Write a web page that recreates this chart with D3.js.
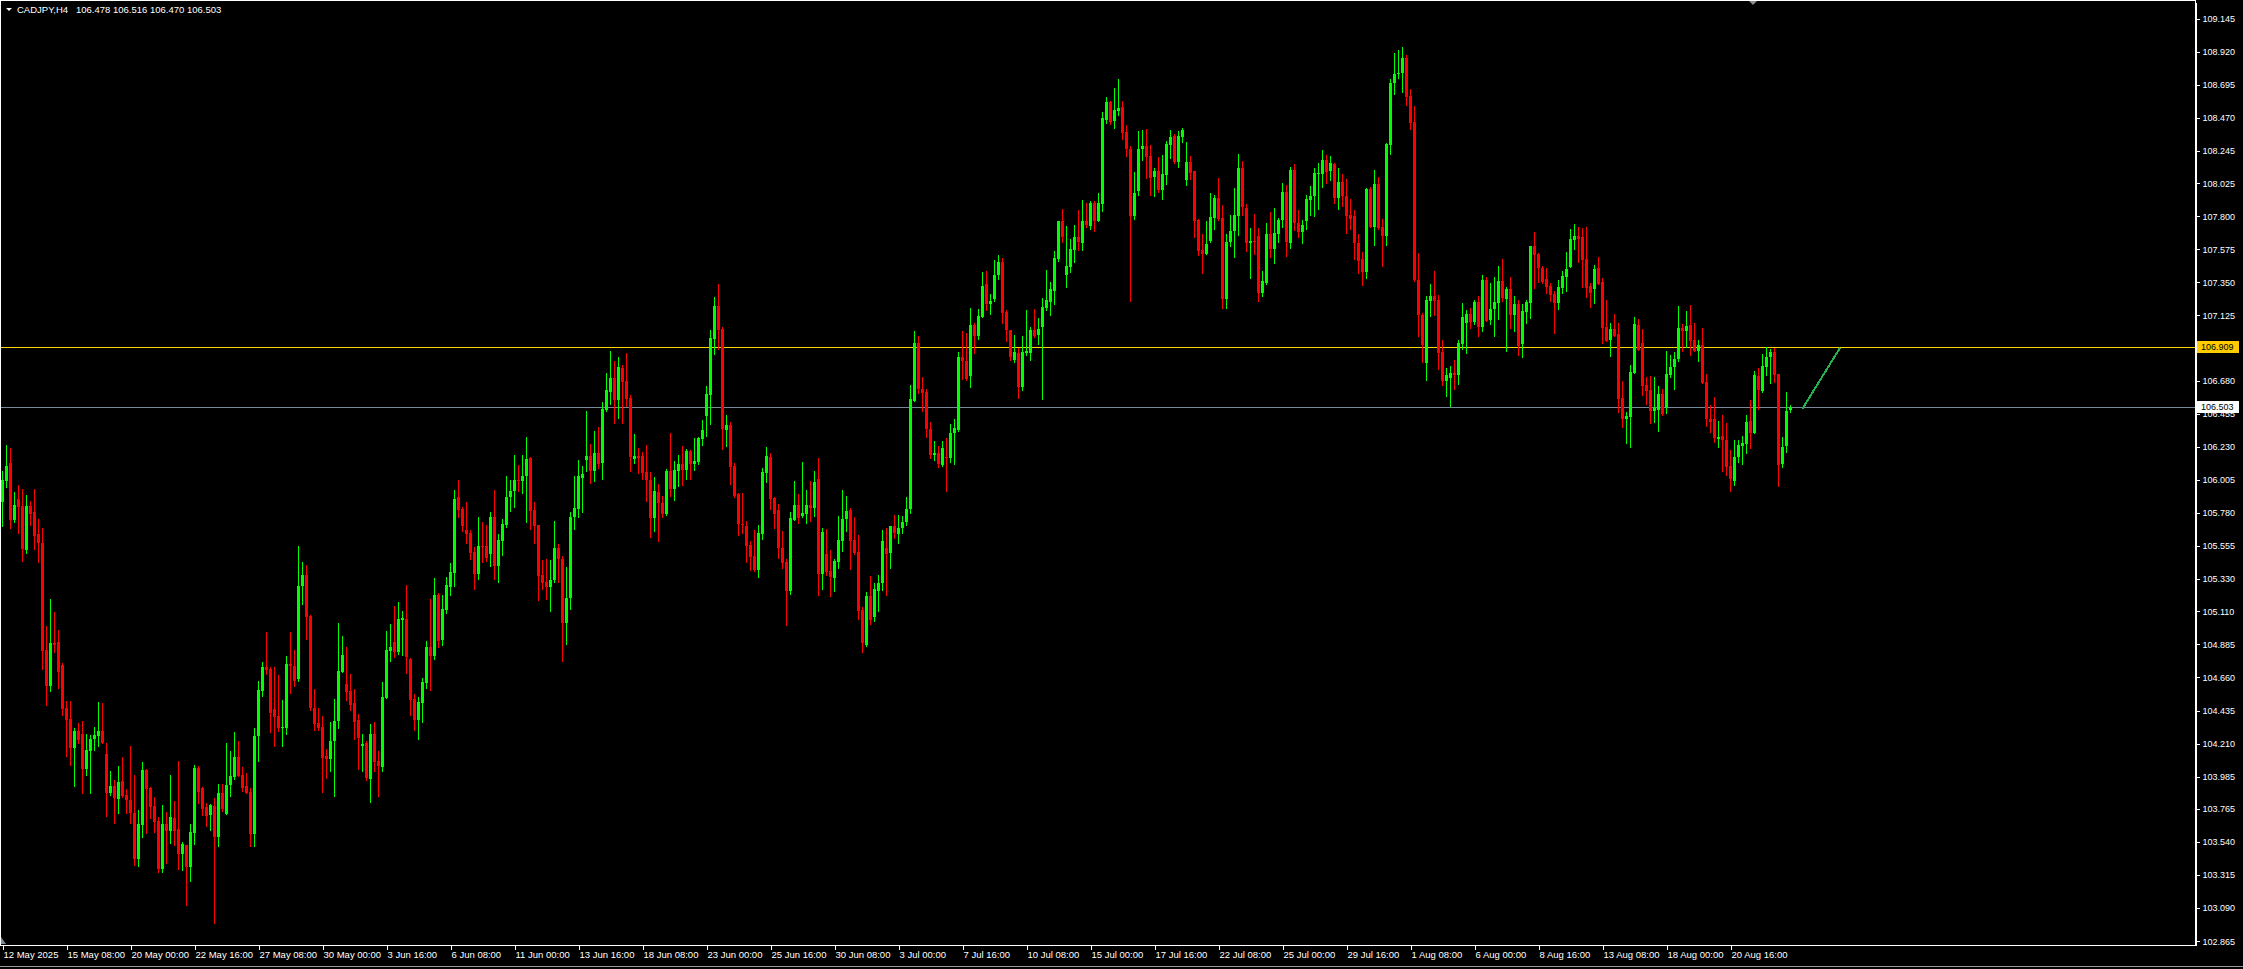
<!DOCTYPE html>
<html><head><meta charset="utf-8">
<script src="https://cdn.jsdelivr.net/npm/d3@7"></script>
<style>html,body{margin:0;padding:0;background:#000;overflow:hidden}svg{display:block}</style>
</head><body>
<svg id="c" width="2243" height="969"></svg>
<script>
const symbol = "CADJPY,H4";
const lastQuote = [106.478, 106.516, 106.470, 106.503];

const open = [
105.857,105.998,106.120,105.732,105.875,105.828,105.528,105.828,105.789,105.637,
105.574,104.847,104.605,104.893,104.902,104.745,104.453,104.375,104.183,104.296,
104.276,104.037,104.162,104.242,104.262,104.296,104.140,103.876,103.922,103.833,
103.956,103.860,103.826,103.736,103.425,103.656,104.031,103.910,103.788,103.686,
103.357,103.663,103.615,103.706,103.629,103.459,103.520,103.373,103.604,104.046,
103.910,103.781,103.724,103.788,103.577,103.872,103.731,103.929,103.985,104.117,
103.997,103.922,103.883,103.595,104.262,104.571,104.729,104.718,104.444,104.398,
104.319,104.319,104.752,104.739,104.650,
105.283,105.358,105.075,104.455,104.353,104.326,104.122,104.106,104.224,104.364,
104.700,104.616,104.571,104.489,104.367,104.190,104.212,103.970,104.276,104.088,
104.047,104.523,104.841,104.898,104.836,105.052,105.059,104.787,104.514,104.371,
104.489,104.621,104.870,104.809,105.218,104.916,105.120,105.279,105.374,105.885,
105.808,105.665,105.646,105.517,105.365,105.556,105.558,105.501,105.749,105.422,
105.592,105.699,105.885,105.930,106.005,105.994,106.028,106.157,105.801,105.699,
105.358,105.313,105.279,105.320,105.544,105.467,105.034,105.199,105.749,105.808,
106.021,106.141,106.168,106.068,106.186,
106.123,106.481,106.606,106.697,106.549,106.769,106.678,106.565,106.148,106.168,
106.168,106.061,106.004,105.748,105.921,105.846,105.771,106.066,105.943,106.068,
106.113,106.073,106.202,106.113,106.125,106.284,106.440,106.583,106.964,107.189,
107.032,106.345,106.379,106.100,105.909,105.705,105.691,105.562,105.487,105.392,
105.637,106.054,106.159,105.880,105.800,105.544,105.444,105.249,105.732,105.834,
105.759,105.773,105.834,105.816,106.009,105.362,105.501,105.385,105.340,105.449,
105.592,105.737,105.800,105.596,105.512,105.120,104.881,105.215,105.074,105.251,
105.301,105.539,105.510,105.691,105.637,
105.680,105.720,105.810,106.545,106.940,106.622,106.600,106.350,106.171,106.191,
106.107,106.164,106.153,106.323,106.346,106.838,106.815,106.715,107.056,106.985,
107.117,107.339,107.203,107.237,107.401,107.491,107.151,107.026,106.822,106.872,
106.640,106.867,106.872,107.022,106.988,107.049,107.178,107.219,107.294,107.509,
107.768,107.401,107.457,107.571,107.661,107.616,107.768,107.736,107.888,107.768,
107.884,108.456,108.580,108.449,108.517,108.546,108.376,108.258,107.804,107.972,
108.256,108.279,108.211,108.070,108.108,107.979,108.081,108.285,108.347,108.172,
108.338,108.043,108.167,108.108,107.775,
107.570,107.543,107.632,107.791,107.927,107.791,107.235,107.621,107.700,107.804,
108.131,107.859,107.620,107.632,107.666,107.280,107.348,107.679,107.577,107.679,
107.775,107.963,107.620,108.115,107.752,107.691,107.770,107.911,107.934,108.088,
108.088,108.183,108.108,108.154,107.927,108.031,107.938,107.809,107.802,107.616,
107.509,107.423,107.986,107.723,108.020,107.729,107.668,108.285,108.705,108.766,
108.773,108.875,108.619,108.439,107.366,107.128,106.799,107.226,107.257,107.230,
106.878,106.681,106.701,106.735,106.720,106.931,107.076,107.135,107.083,107.214,
107.049,107.366,107.094,107.167,107.208,
107.360,107.237,107.305,107.124,107.201,106.931,107.151,107.212,107.598,107.543,
107.450,107.373,107.326,107.271,107.212,107.314,107.389,107.457,107.639,107.666,
107.655,107.507,107.326,107.303,107.446,107.355,107.049,106.958,107.033,106.999,
106.565,106.420,106.436,106.731,107.060,106.935,106.652,106.618,106.477,106.482,
106.590,106.497,106.720,106.770,106.826,107.042,107.015,107.060,106.958,106.885,
106.924,106.668,106.420,106.420,106.284,106.305,106.277,106.102,105.994,106.164,
106.236,106.250,106.409,106.327,106.713,106.611,106.770,106.838,106.874,106.727,
106.114,106.236,106.478
];

const high = [
106.066,106.243,106.220,105.923,105.971,105.941,105.903,105.862,105.941,105.737,
105.680,105.011,105.195,105.106,104.984,104.757,104.500,104.500,104.314,104.348,
104.364,104.276,104.269,104.321,104.493,104.484,104.212,104.024,103.963,104.058,
104.117,103.901,104.194,103.997,103.758,104.085,104.037,103.917,103.849,103.708,
103.792,103.747,103.997,103.820,104.092,103.543,103.520,103.663,104.065,104.058,
103.917,103.808,103.799,103.842,103.935,103.935,104.217,104.162,104.287,104.228,
104.049,104.008,103.906,104.314,104.636,104.764,104.972,104.729,104.729,104.677,
104.507,104.807,104.972,104.847,105.555,
105.445,105.426,105.086,104.582,104.455,104.398,104.174,104.355,104.514,105.034,
104.943,104.870,104.684,104.582,104.412,104.276,104.224,104.344,104.355,104.156,
104.632,104.977,105.025,105.143,105.177,105.113,105.290,104.791,104.548,104.530,
104.659,104.909,105.195,105.340,105.238,105.222,105.347,105.442,105.937,106.005,
105.823,105.851,105.665,105.547,105.755,105.717,105.699,105.783,105.937,105.637,
105.739,106.028,106.005,106.175,106.103,106.175,106.300,106.164,105.851,105.699,
105.460,105.467,105.460,105.726,105.569,105.488,105.415,105.783,106.028,106.141,
106.100,106.475,106.250,106.339,106.368,
106.538,106.735,106.883,106.815,106.839,106.787,106.867,106.583,106.318,106.225,
106.193,106.243,106.061,106.023,105.977,105.896,106.079,106.322,106.134,106.175,
106.236,106.216,106.209,106.293,106.300,106.413,106.644,107.026,107.248,107.339,
107.044,106.447,106.397,106.118,105.914,105.914,105.725,105.589,105.664,105.698,
106.084,106.227,106.186,105.887,105.841,105.657,105.464,105.784,105.998,105.907,
106.125,105.936,105.998,106.066,106.152,105.680,105.671,105.528,105.467,105.759,
105.936,105.896,105.816,105.750,105.630,105.138,105.240,105.351,105.306,105.358,
105.664,105.680,105.691,105.766,105.766,
105.760,105.891,106.651,107.019,106.981,106.702,106.625,106.402,106.271,106.236,
106.271,106.293,106.386,106.420,106.874,107.019,107.003,107.178,107.076,107.169,
107.423,107.428,107.271,107.503,107.537,107.518,107.162,107.026,106.992,106.901,
106.981,107.162,107.044,107.169,107.110,107.246,107.435,107.351,107.564,107.768,
107.850,107.734,107.646,107.741,107.843,107.911,107.893,107.904,107.904,107.956,
108.512,108.608,108.585,108.671,108.735,108.585,108.422,108.279,108.104,108.383,
108.387,108.394,108.285,108.127,108.201,108.217,108.315,108.387,108.360,108.381,
108.399,108.304,108.211,108.108,107.779,
107.679,107.768,107.956,107.945,108.058,107.877,107.679,107.809,107.995,108.222,
108.176,107.884,107.718,107.813,107.718,107.427,107.756,107.831,107.859,107.786,
108.024,108.013,108.138,108.154,107.843,107.775,107.945,108.006,108.126,108.165,
108.251,108.217,108.210,108.160,108.126,108.088,108.054,107.918,107.843,107.677,
107.555,107.995,107.997,108.115,108.070,107.781,108.297,108.734,108.909,108.932,
108.950,108.898,108.666,108.551,107.548,107.139,107.257,107.339,107.427,107.264,
106.958,106.765,106.781,106.822,106.958,107.207,107.162,107.173,107.230,107.257,
107.400,107.384,107.344,107.384,107.462,
107.507,107.317,107.385,107.258,107.230,107.203,107.230,107.598,107.689,107.552,
107.462,107.450,107.344,107.294,107.366,107.428,107.559,107.714,107.748,107.723,
107.718,107.723,107.348,107.469,107.521,107.378,107.230,107.076,107.135,107.076,
106.679,106.470,106.788,107.117,107.101,107.033,106.702,106.713,106.702,106.647,
106.622,106.883,106.856,106.874,107.189,107.067,107.155,107.196,107.076,106.958,
107.042,106.727,106.516,106.566,106.409,106.447,106.391,106.209,106.277,106.277,
106.305,106.447,106.550,106.749,106.765,106.863,106.908,106.894,106.906,106.727,
106.295,106.602,106.516
];

const low = [
105.692,105.959,105.680,105.721,105.646,105.456,105.510,105.698,105.533,105.449,
104.716,104.473,104.568,104.836,104.591,104.405,104.128,104.065,103.922,104.212,
103.876,103.997,103.872,104.167,104.194,104.212,103.720,103.860,103.672,103.736,
103.849,103.740,103.668,103.384,103.379,103.572,103.604,103.702,103.611,103.339,
103.339,103.400,103.531,103.520,103.357,103.350,103.112,103.277,103.527,103.808,
103.724,103.649,103.622,102.987,103.516,103.752,103.731,103.856,103.969,103.992,
103.890,103.876,103.513,103.513,104.092,104.537,104.684,104.292,104.196,104.296,
104.196,104.276,104.557,104.602,104.639,
105.161,104.920,104.439,104.299,104.299,103.877,103.974,104.026,103.856,104.319,
104.700,104.507,104.439,104.242,104.038,104.020,103.963,103.815,104.026,103.856,
104.026,104.523,104.775,104.796,104.821,104.814,104.693,104.401,104.303,104.242,
104.360,104.591,104.575,104.787,104.870,104.882,105.097,105.222,105.283,105.749,
105.658,105.578,105.467,105.263,105.331,105.449,105.456,105.422,105.329,105.313,
105.494,105.687,105.794,105.823,105.926,105.914,105.721,105.671,105.574,105.184,
105.261,105.197,105.115,105.313,105.308,104.775,104.886,105.125,105.671,105.751,
105.789,106.062,105.987,106.000,106.084,
106.014,106.474,106.522,106.390,106.429,106.395,106.508,106.068,106.123,106.050,
106.009,105.864,105.619,105.657,105.592,105.755,105.766,105.896,105.868,105.964,
105.970,106.011,106.009,106.073,106.113,106.243,106.304,106.383,106.862,106.896,
106.216,106.236,105.977,105.887,105.630,105.641,105.449,105.392,105.385,105.347,
105.603,105.993,105.807,105.680,105.476,105.403,105.018,105.229,105.732,105.714,
105.755,105.714,105.728,105.759,105.222,105.263,105.358,105.217,105.251,105.408,
105.524,105.657,105.399,105.501,105.058,104.836,104.877,105.024,105.047,105.115,
105.256,105.222,105.408,105.612,105.578,
105.640,105.700,105.780,106.545,106.595,106.477,106.300,106.153,106.141,106.091,
106.100,105.930,106.130,106.114,106.339,106.693,106.686,106.634,106.867,106.965,
107.117,107.162,107.135,107.223,107.373,107.071,106.947,106.822,106.804,106.565,
106.618,106.856,106.822,106.976,106.931,106.556,107.158,107.124,107.203,107.496,
107.623,107.321,107.423,107.491,107.571,107.571,107.729,107.711,107.700,107.768,
107.832,108.437,108.428,108.403,108.490,108.326,108.211,107.226,107.782,107.945,
108.183,108.063,107.941,107.934,107.968,107.918,108.020,108.199,108.165,108.133,
108.308,108.009,108.054,107.655,107.537,
107.416,107.543,107.623,107.713,107.775,107.178,107.178,107.598,107.525,107.673,
107.809,107.564,107.382,107.541,107.226,107.260,107.339,107.525,107.484,107.623,
107.725,107.532,107.586,107.707,107.657,107.616,107.711,107.809,107.804,107.850,
108.002,108.029,108.047,107.888,107.850,107.866,107.684,107.713,107.509,107.412,
107.332,107.378,107.725,107.605,107.713,107.464,107.605,108.224,108.632,108.744,
108.648,108.557,108.394,107.360,106.987,106.804,106.686,107.121,107.128,106.760,
106.652,106.579,106.511,106.624,106.658,106.897,106.872,107.042,107.065,106.981,
107.015,107.087,107.067,106.981,107.101,
107.223,106.883,107.042,107.019,106.856,106.838,107.076,107.110,107.314,107.355,
107.344,107.280,107.223,107.003,107.169,107.276,107.294,107.457,107.575,107.491,
107.321,107.253,107.185,107.208,107.339,106.940,106.947,106.851,106.981,106.470,
106.368,106.259,106.232,106.731,106.890,106.584,106.522,106.391,106.402,106.341,
106.447,106.463,106.704,106.622,106.811,106.879,106.908,106.856,106.885,106.817,
106.663,106.375,106.334,106.261,106.232,106.062,106.035,105.932,105.971,106.130,
106.114,106.187,106.221,106.327,106.488,106.602,106.720,106.663,106.674,105.960,
106.096,106.193,106.470
];

const close = [
106.005,106.100,105.732,105.834,105.823,105.535,105.828,105.773,105.623,105.574,
104.843,104.605,104.893,104.881,104.700,104.448,104.373,104.183,104.296,104.235,
104.037,104.167,104.242,104.269,104.296,104.212,103.876,103.922,103.838,103.951,
103.854,103.826,103.736,103.425,103.663,104.031,103.901,103.781,103.679,103.357,
103.663,103.615,103.708,103.615,103.459,103.527,103.373,103.606,104.046,103.883,
103.765,103.720,103.792,103.577,103.876,103.765,103.929,103.990,104.121,103.992,
103.910,103.876,103.595,104.262,104.575,104.729,104.711,104.421,104.394,104.319,
104.326,104.752,104.739,104.639,105.283,
105.358,105.070,104.451,104.344,104.315,104.115,104.106,104.228,104.364,104.707,
104.814,104.564,104.473,104.360,104.251,104.208,103.974,104.276,104.083,104.054,
104.530,104.848,104.870,104.836,105.059,105.063,104.796,104.507,104.367,104.496,
104.632,104.870,104.809,105.218,104.911,105.127,105.286,105.381,105.876,105.801,
105.694,105.637,105.510,105.365,105.556,105.547,105.476,105.749,105.422,105.597,
105.705,105.891,105.930,106.005,105.994,106.032,106.148,105.796,105.694,105.354,
105.306,105.279,105.320,105.544,105.467,105.034,105.199,105.749,105.812,106.028,
106.046,106.168,106.068,106.186,106.114,
106.486,106.617,106.697,106.549,106.771,106.674,106.556,106.163,106.168,106.157,
106.054,106.004,105.748,105.930,105.846,105.773,106.066,105.943,106.073,106.113,
106.073,106.202,106.113,106.134,106.293,106.345,106.590,106.969,107.189,107.026,
106.352,106.379,106.095,105.898,105.705,105.698,105.558,105.478,105.392,105.641,
106.057,106.168,105.875,105.773,105.544,105.442,105.249,105.744,105.834,105.748,
105.778,105.834,105.816,105.993,105.365,105.648,105.381,105.347,105.453,105.596,
105.739,105.793,105.592,105.505,105.115,104.893,105.215,105.052,105.260,105.301,
105.589,105.501,105.691,105.641,105.680,
105.720,105.810,106.556,106.940,106.622,106.595,106.350,106.171,106.191,106.112,
106.225,106.153,106.327,106.357,106.838,106.811,106.690,107.056,106.981,107.121,
107.326,107.203,107.223,107.401,107.491,107.144,107.022,106.838,106.874,106.640,
106.874,106.879,107.026,106.985,107.033,107.180,107.230,107.305,107.518,107.768,
107.655,107.462,107.577,107.661,107.621,107.764,107.741,107.888,107.768,107.888,
108.467,108.580,108.444,108.524,108.535,108.369,108.256,107.804,107.956,108.258,
108.279,108.206,108.063,108.108,107.979,108.088,108.292,108.338,108.172,108.347,
108.388,108.167,108.093,107.770,107.564,
107.543,107.611,107.793,107.927,107.779,107.235,107.623,107.700,107.809,108.131,
107.861,107.620,107.632,107.623,107.280,107.359,107.679,107.577,107.684,107.775,
107.963,107.627,108.115,107.752,107.691,107.741,107.918,107.934,108.092,108.097,
108.183,108.104,108.160,107.927,108.031,107.934,107.804,107.781,107.620,107.498,
107.423,107.986,107.729,108.020,107.718,107.668,108.290,108.705,108.766,108.778,
108.875,108.614,108.437,107.366,107.124,106.924,107.230,107.257,107.226,106.872,
106.681,106.720,106.735,106.720,106.935,107.117,107.135,107.083,107.214,107.049,
107.366,107.089,107.167,107.214,107.359,
107.246,107.305,107.124,107.203,106.919,107.155,107.214,107.598,107.537,107.450,
107.355,107.316,107.264,107.212,107.316,107.394,107.441,107.646,107.666,107.643,
107.503,107.314,107.280,107.441,107.339,107.042,106.953,107.033,106.981,106.556,
106.420,106.441,106.736,107.067,106.890,106.647,106.613,106.477,106.493,106.590,
106.452,106.727,106.772,106.826,107.042,107.019,107.053,106.947,106.885,106.924,
106.663,106.418,106.402,106.289,106.300,106.273,106.096,106.012,106.164,106.243,
106.259,106.402,106.327,106.720,106.618,106.777,106.838,106.874,106.720,106.107,
106.227,106.475,106.503
];

const priceTicks = [109.145,108.920,108.695,108.470,108.245,108.025,107.800,107.575,107.350,107.125,
  106.900,106.680,106.455,106.230,106.005,105.780,105.555,105.330,105.110,104.885,104.660,
  104.435,104.210,103.985,103.765,103.540,103.315,103.090,102.865];

const timeTickIndex = [0,16,32,48,64,80,96,112,128,144,160,176,192,208,224,240,256,272,288,304,320,336,352,368,384,400,416,432];
const timeTickLabels = ["12 May 2025","15 May 08:00","20 May 00:00","22 May 16:00","27 May 08:00","30 May 00:00",
  "3 Jun 16:00","6 Jun 08:00","11 Jun 00:00","13 Jun 16:00","18 Jun 08:00","23 Jun 00:00","25 Jun 16:00",
  "30 Jun 08:00","3 Jul 00:00","7 Jul 16:00","10 Jul 08:00","15 Jul 00:00","17 Jul 16:00","22 Jul 08:00",
  "25 Jul 00:00","29 Jul 16:00","1 Aug 08:00","6 Aug 00:00","8 Aug 16:00","13 Aug 08:00","18 Aug 00:00","20 Aug 16:00"];

const levelPrice = 106.909;
const bidPrice = 106.503;
const trendIdx = [450, 459.4];
const trendPrice = [106.490, 106.905];

// ---------- drawing ----------
const W = 2243, H = 969;
const plotRight = 2195, plotBottom = 945;
const BULL = "#00ff00", BEAR = "#ff0000", FG = "#ffffff";
const FONT = "'Liberation Sans', Arial, sans-serif";

const svg = d3.select("#c");
svg.append("rect").attr("width", W).attr("height", H).attr("fill", "#000");

const x = d3.scaleLinear().domain([0, 447]).range([2.5, 2.5 + 4 * 447]);
const y = d3.scaleLinear().domain([102.8387, 109.258]).range([plotBottom, 2]);

const n = close.length;
const bars = d3.range(n).map(i => ({i, o: open[i], h: high[i], l: low[i], c: close[i]}));

// horizontal level lines
const ly = Math.round(y(levelPrice)) + 0.5;
const by = Math.round(y(bidPrice)) + 0.5;
svg.append("line").attr("x1", 0).attr("x2", plotRight).attr("y1", ly).attr("y2", ly)
  .attr("stroke", "#ffd700").attr("stroke-width", 1);
svg.append("line").attr("x1", 0).attr("x2", plotRight).attr("y1", by).attr("y2", by)
  .attr("stroke", "#778899").attr("stroke-width", 1);

// candles
const g = svg.append("g").attr("shape-rendering", "crispEdges");
g.selectAll("line.w").data(bars).join("line").attr("class", "w")
  .attr("x1", d => x(d.i)).attr("x2", d => x(d.i))
  .attr("y1", d => Math.round(y(d.h))).attr("y2", d => Math.round(y(d.l)) + 1)
  .attr("stroke", d => d.c >= d.o ? BULL : BEAR).attr("stroke-width", 1);
g.selectAll("rect.b").data(bars).join("rect").attr("class", "b")
  .attr("x", d => x(d.i) - 1.5).attr("width", 3)
  .attr("y", d => Math.round(y(Math.max(d.o, d.c))))
  .attr("height", d => Math.max(1, Math.round(y(Math.min(d.o, d.c))) - Math.round(y(Math.max(d.o, d.c)))))
  .attr("fill", d => d.c >= d.o ? BULL : BEAR);

// trend line
svg.append("line")
  .attr("x1", x(trendIdx[0])).attr("y1", y(trendPrice[0]))
  .attr("x2", x(trendIdx[1])).attr("y2", y(trendPrice[1]))
  .attr("stroke", "#22b14c").attr("stroke-width", 2).attr("shape-rendering", "crispEdges");

// frame
svg.append("rect").attr("x", 0.5).attr("y", 0.5).attr("width", plotRight).attr("height", plotBottom)
  .attr("fill", "none").attr("stroke", FG).attr("stroke-width", 1).attr("shape-rendering", "crispEdges");

// price axis
const yAxis = d3.axisRight(y).tickValues(priceTicks).tickSize(4).tickSizeOuter(0).tickPadding(3)
  .tickFormat(d3.format(".3f"));
const ya = svg.append("g").attr("transform", `translate(${plotRight + 0.5},0)`).call(yAxis);
ya.select(".domain").attr("stroke", FG).attr("shape-rendering", "crispEdges");
ya.selectAll(".tick line").attr("stroke", FG).attr("shape-rendering", "crispEdges");
ya.selectAll(".tick text").attr("fill", FG).attr("font-family", FONT).attr("font-size", "9px");

// time axis
const xAxis = d3.axisBottom(x).tickValues(timeTickIndex).tickSize(4).tickSizeOuter(0)
  .tickFormat((d, i) => timeTickLabels[i]);
const xa = svg.append("g").attr("transform", `translate(0,${plotBottom + 0.5})`).call(xAxis);
xa.select(".domain").remove();
xa.selectAll(".tick line").attr("stroke", FG).attr("shape-rendering", "crispEdges");
xa.selectAll(".tick text").attr("fill", FG).attr("font-family", FONT).attr("font-size", "9.5px")
  .attr("text-anchor", "start").attr("x", 0.5).attr("y", 6).attr("dy", "0.71em");

// price tags
function tag(price, bg, txt) {
  const cy = Math.round(y(price));
  svg.append("rect").attr("x", plotRight + 2).attr("y", cy - 6).attr("width", 42).attr("height", 12)
    .attr("fill", bg).attr("shape-rendering", "crispEdges");
  svg.append("text").attr("x", plotRight + 6).attr("y", cy).attr("dy", "0.35em")
    .attr("fill", txt).attr("font-family", FONT).attr("font-size", "9px").text(d3.format(".3f")(price));
}
tag(levelPrice, "#ffcc00", "#000");
tag(bidPrice, "#ffffff", "#000");

// title
svg.append("path").attr("d", "M6,8 L12,8 L9,11 Z").attr("fill", FG);
svg.append("text").attr("x", 17).attr("y", 13).attr("fill", FG).attr("font-family", FONT)
  .attr("font-size", "9.5px").text(symbol);
svg.append("text").attr("x", 76).attr("y", 13).attr("fill", FG).attr("font-family", FONT)
  .attr("font-size", "9.5px").text(lastQuote.map(d3.format(".3f")).join(" "));

// chart shift marker & corner marker
svg.append("path").attr("d", "M1749,1 L1757,1 L1753,5 Z").attr("fill", "#8c8c8c");
svg.append("path").attr("d", "M1,937 L1,944 L6,944 Z").attr("fill", "#7f8c99");

// bottom tab strip
svg.append("line").attr("x1", 0).attr("x2", W).attr("y1", 966.5).attr("y2", 966.5)
  .attr("stroke", "#9a9a9a").attr("shape-rendering", "crispEdges");
</script>
</body></html>
